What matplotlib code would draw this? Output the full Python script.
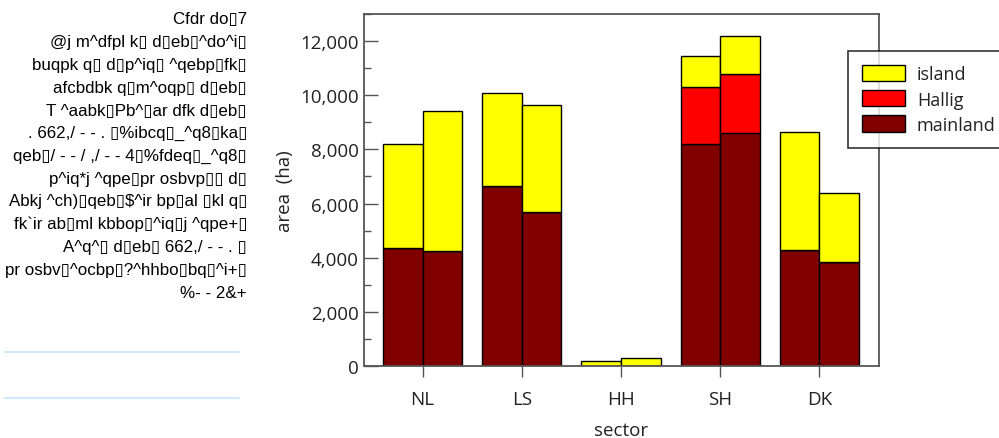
import matplotlib
matplotlib.use("Agg")
import matplotlib.pyplot as plt
from matplotlib.patches import Patch
from matplotlib.ticker import FuncFormatter, MultipleLocator
import numpy as np

# area per sector (ha), first survey (left bar) and second survey (right bar)
sectors = ["NL", "LS", "HH", "SH", "DK"]
mainland_first = [4350, 6650, 0, 8200, 4300]
hallig_first = [0, 0, 0, 2100, 0]
island_first = [3850, 3450, 200, 1150, 4350]
mainland_second = [4250, 5700, 0, 8600, 3850]
hallig_second = [0, 0, 0, 2200, 0]
island_second = [5150, 3950, 280, 1400, 2550]

B = "\u25af"
caption_lines = [
    "Cfdr do" + B + "7",
    "@j m^dfpl k" + B + " d" + B + "eb" + B + "^do^i" + B,
    "buqpk q" + B + " d" + B + "p^iq" + B + " ^qebp" + B + "fk" + B,
    "afcbdbk q" + B + "m^oqp" + B + " d" + B + "eb" + B,
    "T ^aabk" + B + "Pb^" + B + "ar dfk d" + B + "eb" + B,
    ". 662,/ - - . " + B + "%ibcq" + B + "_^q8" + B + "ka" + B,
    "qeb" + B + "/ - - / ,/ - - 4" + B + "%fdeq" + B + "_^q8" + B,
    "p^iq*j ^qpe" + B + "pr osbvp" + B + B + " d" + B,
    "Abkj ^ch)" + B + "qeb" + B + "$^ir bp" + B + "al " + B + "kl q" + B,
    "fk`ir ab" + B + "ml kbbop" + B + "^iq" + B + "j ^qpe+" + B,
    "A^q^" + B + " d" + B + "eb" + B + " 662,/ - - . " + B,
    "pr osbv" + B + "^ocbp" + B + "?^hhbo" + B + "bq" + B + "^i+" + B,
    "%- - 2&+",
]

YELLOW = "#ffff00"
RED = "#ff0000"
MAROON = "#800000"

plt.rcParams["font.family"] = ["Open Sans", "DejaVu Sans"]
FS = 13.5

W, H = 999, 439
fig = plt.figure(figsize=(W / 100, H / 100), dpi=100)
ax = fig.add_axes([364 / W, 1 - 367 / H, (879 - 364) / W, (367 - 15) / H])

x = np.arange(len(sectors))
bw = 0.4
for off, ml, hl, isl in [(-bw / 2, mainland_first, hallig_first, island_first),
                         (bw / 2, mainland_second, hallig_second, island_second)]:
    ml = np.array(ml)
    hl = np.array(hl)
    isl = np.array(isl)
    ax.bar(x + off, ml, bw, color=MAROON, edgecolor="black", linewidth=1, zorder=2)
    ax.bar(x + off, hl, bw, bottom=ml, color=RED, edgecolor="black", linewidth=1, zorder=2)
    ax.bar(x + off, isl, bw, bottom=ml + hl, color=YELLOW, edgecolor="black", linewidth=1, zorder=2)

ax.set_xlim(-0.59, 4.6)
ax.set_ylim(0, 13000)
ax.set_xticks(x)
ax.set_xticklabels(sectors)
ax.yaxis.set_major_locator(MultipleLocator(2000))
ax.yaxis.set_minor_locator(MultipleLocator(1000))
ax.yaxis.set_major_formatter(FuncFormatter(lambda v, p: f"{int(v):,}"))

for s in ax.spines.values():
    s.set_color("#555555")
    s.set_linewidth(1.3)
ax.tick_params(axis="y", which="major", direction="in", length=10, width=1, color="#555555",
               labelsize=FS, pad=4)
ax.tick_params(axis="y", which="minor", direction="in", length=5, width=1, color="#555555")
ax.tick_params(axis="x", direction="out", length=8, width=1, color="#555555",
               labelsize=FS, pad=9)
ax.tick_params(labelcolor="#222222")

ax.set_ylabel("area  (ha)", fontsize=FS, color="#222222", labelpad=4)
ax.set_xlabel("sector", fontsize=FS, color="#222222", labelpad=10)

handles = [Patch(facecolor=YELLOW, edgecolor="black", label="island"),
           Patch(facecolor=RED, edgecolor="black", label="Hallig"),
           Patch(facecolor=MAROON, edgecolor="black", label="mainland")]
leg = fig.legend(handles=handles, loc="upper left", bbox_to_anchor=(847.5 / W, 1 - 51.7 / H),
                 borderaxespad=0, fontsize=13, fancybox=False, frameon=True,
                 handlelength=2.4, handleheight=1.0, handletextpad=0.64,
                 labelspacing=0.38, borderpad=0.8)
leg.get_frame().set_edgecolor("black")
leg.get_frame().set_linewidth(1.2)
for t in leg.get_texts():
    t.set_color("#222222")

# caption block on the left, right aligned
for i, line in enumerate(caption_lines):
    fig.text(247 / W, 1 - (20 + i * 22.75) / H, line, ha="right", va="center",
             fontsize=12.2, family=["Liberation Sans", "DejaVu Sans"], color="black")

# two thin rules under the caption
for yy in (352.7, 399):
    fig.add_artist(plt.Line2D([5 / W, 239 / W], [1 - yy / H, 1 - yy / H],
                              color="#c6e6f5", linewidth=1.2))

fig.savefig("out.png", dpi=100)
